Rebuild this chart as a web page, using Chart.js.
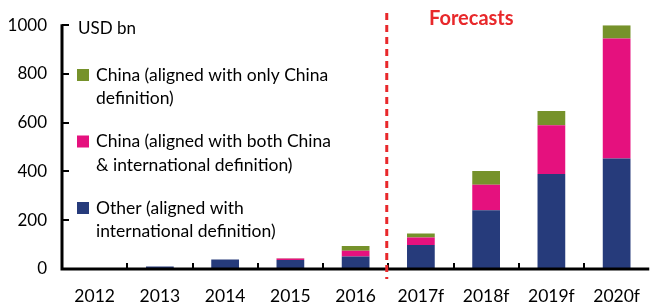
<!DOCTYPE html>
<html>
<head>
<meta charset="utf-8">
<script src="https://cdn.jsdelivr.net/npm/chart.js@4.4.1/dist/chart.umd.min.js"></script>
<style>
html,body{margin:0;padding:0;background:#fff;}
#wrap{position:relative;width:657px;height:304px;}
</style>
</head>
<body>
<div id="wrap"><canvas id="c" width="657" height="304"></canvas></div>
<script>
const categories = ['2012','2013','2014','2015','2016','2017f','2018f','2019f','2020f'];
const otherValues = [0, 10, 39, 37, 51, 98, 241, 390, 453];
const chinaBothValues = [0, 0, 0, 6, 24, 31, 105, 200, 492];
const chinaOnlyValues = [0, 0, 0, 1, 19, 17, 56, 58, 55];
const yTicks = [0, 200, 400, 600, 800, 1000];
const unitLabel = 'USD bn';
const forecastLabel = 'Forecasts';
const legendLines = [
  ['China (aligned with only China', 'definition)'],
  ['China (aligned with both China', '& international definition)'],
  ['Other (aligned with', 'international definition)']
];

const FONT = 'Lato, "Open Sans", sans-serif';
const colBlue = '#263B7B', colPink = '#E5117E', colGreen = '#76922B', colRed = '#E8282B';

const decor = {
  id: 'decor',
  afterDraw(chart) {
    const ctx = chart.ctx, x = chart.scales.x, y = chart.scales.y, a = chart.chartArea;
    ctx.save();
    ctx.strokeStyle = '#000';
    ctx.lineWidth = 3;
    ctx.beginPath();
    ctx.moveTo(a.left, y.getPixelForValue(1000) - 1);
    ctx.lineTo(a.left, y.getPixelForValue(0));
    ctx.lineTo(a.right, y.getPixelForValue(0));
    ctx.stroke();
    ctx.lineWidth = 2;
    yTicks.forEach(v => {
      const py = Math.round(y.getPixelForValue(v));
      ctx.beginPath(); ctx.moveTo(a.left, py); ctx.lineTo(a.left + 7, py); ctx.stroke();
    });
    const y0 = y.getPixelForValue(0);
    for (let i = 0; i < categories.length - 1; i++) {
      const px = Math.round((x.getPixelForValue(i) + x.getPixelForValue(i + 1)) / 2);
      ctx.beginPath(); ctx.moveTo(px, y0); ctx.lineTo(px, y0 - 6); ctx.stroke();
    }
    const fx = (x.getPixelForValue(4) + x.getPixelForValue(5)) / 2 - 1.5;
    ctx.strokeStyle = colRed;
    ctx.lineWidth = 3;
    ctx.setLineDash([7, 5]);
    ctx.beginPath(); ctx.moveTo(fx, 13); ctx.lineTo(fx, 279); ctx.stroke();
    ctx.setLineDash([]);
    ctx.fillStyle = colRed;
    ctx.font = 'bold 20px ' + FONT;
    ctx.textBaseline = 'middle';
    ctx.textAlign = 'left';
    ctx.fillText(forecastLabel, 429, 19);
    ctx.fillStyle = '#000';
    ctx.font = '17px ' + FONT;
    ctx.fillText(unitLabel, 78, 29);
    ctx.font = '17.5px ' + FONT;
    const ds = chart.data.datasets;
    const order = [2, 1, 0];
    order.forEach((di, k) => {
      const top = 75 + k * 66.5;
      ctx.fillStyle = ds[di].backgroundColor;
      ctx.fillRect(77, top - 6, 12, 12);
      ctx.fillStyle = '#000';
      legendLines[k].forEach((ln, j) => ctx.fillText(ln, 96, top + j * 23.5));
    });
    ctx.restore();
  }
};

new Chart(document.getElementById('c'), {
  type: 'bar',
  data: {
    labels: categories,
    datasets: [
      { label: 'Other (aligned with international definition)', data: otherValues, backgroundColor: colBlue, borderWidth: 0 },
      { label: 'China (aligned with both China & international definition)', data: chinaBothValues, backgroundColor: colPink, borderWidth: 0 },
      { label: 'China (aligned with only China definition)', data: chinaOnlyValues, backgroundColor: colGreen, borderWidth: 0 }
    ]
  },
  options: {
    responsive: false,
    animation: false,
    devicePixelRatio: 1,
    layout: { padding: { top: 21, right: 0, left: 0, bottom: 0 } },
    datasets: { bar: { categoryPercentage: 1, barPercentage: 0.425 } },
    plugins: { legend: { display: false }, tooltip: { enabled: false } },
    scales: {
      x: {
        stacked: true,
        grid: { display: false, drawTicks: false },
        border: { display: false },
        ticks: { color: '#000', font: { family: FONT, size: 17.5 }, padding: 17, maxRotation: 0 },
        afterFit(s) { s.height = 35; }
      },
      y: {
        stacked: true,
        min: 0, max: 1000,
        afterBuildTicks(s) { s.ticks = yTicks.map(v => ({ value: v })); },
        grid: { display: false, drawTicks: false },
        border: { display: false },
        ticks: { color: '#000', font: { family: FONT, size: 17 }, padding: 15, callback: v => String(v) },
        afterFit(s) { s.width = 62; }
      }
    }
  },
  plugins: [decor]
});
</script>
</body>
</html>
